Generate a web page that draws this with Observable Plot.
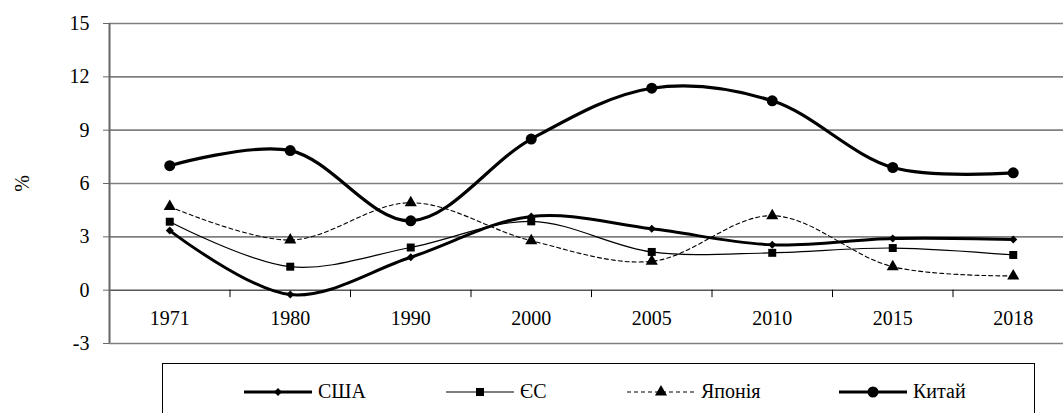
<!DOCTYPE html>
<html>
<head>
<meta charset="utf-8">
<script src="https://cdn.jsdelivr.net/npm/d3@7"></script>
<script src="https://cdn.jsdelivr.net/npm/@observablehq/plot@0.6"></script>
<style>
  html, body { margin: 0; padding: 0; background: #fff; }
  #wrap { position: relative; width: 1063px; height: 413px; overflow: hidden; font-family: "Liberation Serif", "Tinos", "DejaVu Serif", "Noto Serif", serif; }
  #legend { position: absolute; left: 162px; top: 363px; width: 873px; height: 70px; border: 1px solid #000; box-sizing: border-box; }
  .item { position: absolute; top: 16px; display: flex; align-items: center; font-size: 20px; color: #000; }
  .item svg { display: block; margin-right: 6px; }
</style>
</head>
<body>
<div id="wrap">
  <div id="chart"></div>
  <div id="legend"></div>
</div>
<script>
const categories = ["1971", "1980", "1990", "2000", "2005", "2010", "2015", "2018"];
const usa   = [3.35, -0.25, 1.85, 4.15, 3.45, 2.55, 2.9, 2.85];
const eu    = [3.85, 1.32, 2.4, 3.87, 2.15, 2.1, 2.37, 1.98];
const japan = [4.7, 2.82, 4.92, 2.78, 1.62, 4.19, 1.32, 0.8];
const china = [7.0, 7.85, 3.9, 8.5, 11.36, 10.65, 6.9, 6.6];
const yTicks = [-3, 0, 3, 6, 9, 12, 15];

const FONT = "'Liberation Serif', Tinos, 'DejaVu Serif', 'Noto Serif', serif";

const series = [
  {name: "США",    values: usa,   symbol: "diamond2", r: 3.6, width: 3,   dash: null},
  {name: "ЄС",     values: eu,    symbol: "square",   r: 4.5, width: 1.2, dash: null},
  {name: "Японія", values: japan, symbol: "triangle", r: 4.5, width: 1.1, dash: "4,3"},
  {name: "Китай",  values: china, symbol: "circle",   r: 5.5, width: 3.2, dash: null}
];

const rows = series.flatMap(s => s.values.map((v, i) => ({name: s.name, i, v})));
const boundaries = categories.slice(0, -1).map((d, i) => i + 0.5);

const marks = [
  Plot.ruleY(yTicks.filter(d => d !== 0), {y: d => d, stroke: "#808080", strokeWidth: 1.6}),
  Plot.ruleY([0], {stroke: "#000", strokeWidth: 1}),
  Plot.ruleX([-0.5], {y1: -3, y2: 15, stroke: "#666", strokeWidth: 2}),
  Plot.ruleX(boundaries, {x: d => d, y1: 0, y2: -0.42, stroke: "#000", strokeWidth: 1}),
  Plot.text(categories, {x: (d, i) => i, y: 0, dy: 28, text: d => d, fontSize: 20, fill: "#000", fontFamily: FONT}),
  Plot.axisY({ticks: yTicks, tickFormat: d => String(d), tickSize: 6, tickPadding: 14, stroke: "#666", fill: "#000",
              fontSize: 20, fontFamily: FONT,
              label: "%", labelAnchor: "center", labelOffset: 95, labelArrow: "none"})
];
for (const s of series) {
  const data = rows.filter(d => d.name === s.name);
  marks.push(Plot.line(data, {x: "i", y: "v", curve: "catmull-rom", stroke: "#000",
    strokeWidth: s.width, strokeDasharray: s.dash}));
  marks.push(Plot.dot(data, {x: "i", y: "v", symbol: () => s.symbol, r: s.r, fill: "#000", stroke: "none"}));
}

const chart = Plot.plot({
  width: 1063,
  height: 363,
  marginTop: 23,
  marginBottom: 20,
  marginLeft: 109,
  marginRight: 0,
  style: {fontFamily: FONT, fontSize: "20px", background: "#fff", color: "#000"},
  x: {domain: [-0.5, categories.length - 0.5], range: [109, 1073], axis: null},
  y: {domain: [-3, 15], axis: null},
  symbol: {type: "identity"},
  marks
});
document.getElementById("chart").appendChild(chart);

// legend
const legendPos = [
  {swatch: 81},
  {swatch: 283},
  {swatch: 464},
  {swatch: 676}
];
const legend = document.getElementById("legend");
series.forEach((s, k) => {
  const div = document.createElement("div");
  div.className = "item";
  div.style.left = legendPos[k].swatch + "px";
  const w = 68, h = 20;
  const svg = d3.create("svg").attr("width", w).attr("height", h);
  svg.append("line").attr("x1", 0).attr("x2", w).attr("y1", h / 2).attr("y2", h / 2)
    .attr("stroke", "#000").attr("stroke-width", s.width).attr("stroke-dasharray", s.dash);
  const sym = {diamond2: d3.symbolDiamond2, square: d3.symbolSquare, triangle: d3.symbolTriangle, circle: d3.symbolCircle}[s.symbol];
  svg.append("path").attr("transform", `translate(${w / 2},${h / 2})`)
    .attr("d", d3.symbol(sym, Math.PI * s.r * s.r)()).attr("fill", "#000");
  div.appendChild(svg.node());
  const t = document.createElement("span");
  t.textContent = s.name;
  div.appendChild(t);
  legend.appendChild(div);
});
</script>
</body>
</html>
